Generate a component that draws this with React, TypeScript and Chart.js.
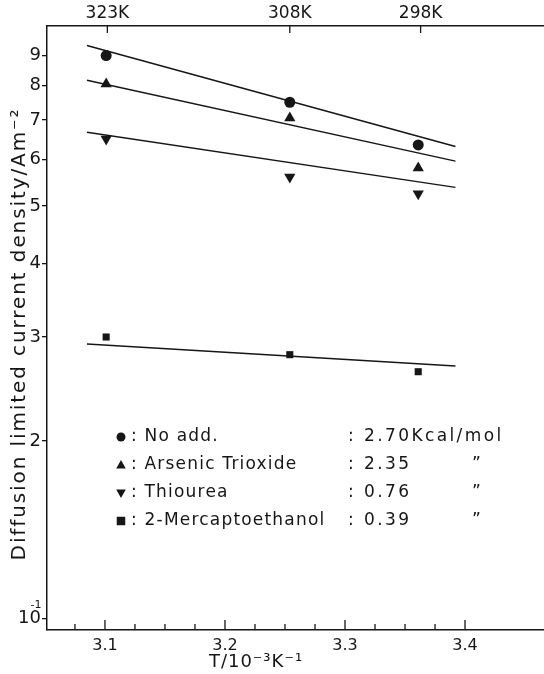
import React, { useEffect, useRef } from 'react';
import { Chart, registerables } from 'chart.js';

Chart.register(...registerables);

// 1/T positions (10^-3 K^-1) of the measurements (323 K, 308 K, 298 K)
const xInvT = [3.101, 3.254, 3.361];
// Diffusion limited current density / A m^-2
const noAdd = [9.0, 7.5, 6.35];
const arsenic = [8.05, 7.05, 5.8];
const thiourea = [6.5, 5.6, 5.25];
const mercapto = [3.0, 2.8, 2.62];
// fitted straight lines (end points)
const fitX = [3.085, 3.392];
const noAddFit = [9.36, 6.31];
const arsenicFit = [8.17, 5.96];
const thioureaFit = [6.67, 5.38];
const mercaptoFit = [2.92, 2.68];

const xTicks = [3.1, 3.2, 3.3, 3.4];
const xTickLabels = ['3.1', '3.2', '3.3', '3.4'];
const xMinorTicks = [3.075, 3.125, 3.15, 3.175, 3.225, 3.25, 3.275, 3.325, 3.35, 3.375];
const topTicks = [3.102, 3.254, 3.363];
const topTickLabels = ['323K', '308K', '298K'];
const yTicks = [1, 2, 3, 4, 5, 6, 7, 8, 9];
const yTickLabels = ['10', '2', '3', '4', '5', '6', '7', '8', '9'];

const legendNames = ['No add.', 'Arsenic Trioxide', 'Thiourea', '2-Mercaptoethanol'];
const legendEnergies = ['2.70', '2.35', '0.76', '0.39'];
const legendUnit = 'Kcal/mol';
const legendDitto = '\u201D';
const legendStyles = ['circle', 'up', 'down', 'square'];

const INK = '#161616';
const FONT = '"DejaVu Sans", sans-serif';

function drawSymbol(ctx: CanvasRenderingContext2D, kind: string, cx: number, cy: number, r: number) {
  ctx.beginPath();
  if (kind === 'circle') {
    ctx.arc(cx, cy, r, 0, Math.PI * 2);
  } else if (kind === 'up') {
    ctx.moveTo(cx, cy - r);
    ctx.lineTo(cx + r * 0.95, cy + r * 0.7);
    ctx.lineTo(cx - r * 0.95, cy + r * 0.7);
    ctx.closePath();
  } else if (kind === 'down') {
    ctx.moveTo(cx, cy + r);
    ctx.lineTo(cx + r * 0.95, cy - r * 0.7);
    ctx.lineTo(cx - r * 0.95, cy - r * 0.7);
    ctx.closePath();
  } else {
    ctx.rect(cx - r * 0.85, cy - r * 0.85, r * 1.7, r * 1.7);
  }
  ctx.fill();
}

const overlay = {
  id: 'overlay',
  afterDraw(chart: any) {
    const { ctx, chartArea, scales } = chart;
    const sx = scales.x;
    const sx2 = scales.x2;
    const sy = scales.y;
    ctx.save();
    ctx.strokeStyle = INK;
    ctx.fillStyle = INK;
    ctx.lineWidth = 1.3;
    // inward tick marks on bottom axis
    ctx.beginPath();
    for (const v of xTicks) {
      const px = sx.getPixelForValue(v);
      ctx.moveTo(px, chartArea.bottom);
      ctx.lineTo(px, chartArea.bottom - 10);
    }
    for (const v of xMinorTicks) {
      const px = sx.getPixelForValue(v);
      ctx.moveTo(px, chartArea.bottom);
      ctx.lineTo(px, chartArea.bottom - 6);
    }
    // inward tick marks on top axis
    for (const v of topTicks) {
      const px = sx2.getPixelForValue(v);
      ctx.moveTo(px, chartArea.top);
      ctx.lineTo(px, chartArea.top + 7);
    }
    ctx.stroke();

    // superscript of the bottom y label
    const y1 = sy.getPixelForValue(yTicks[0]);
    ctx.font = `11px ${FONT}`;
    ctx.textAlign = 'center';
    ctx.textBaseline = 'middle';
    ctx.fillText('-1', 36, y1 - 13);

    // y axis title
    ctx.save();
    ctx.translate(20, 334);
    ctx.rotate(-Math.PI / 2);
    ctx.font = `20px ${FONT}`;
    (ctx as any).letterSpacing = '1.9px';
    ctx.textAlign = 'center';
    ctx.textBaseline = 'middle';
    ctx.fillText('Diffusion limited current density/Am\u207B\u00B2', 0, 0);
    ctx.restore();

    // x axis title
    ctx.save();
    (ctx as any).letterSpacing = '1px';
    ctx.font = `18px ${FONT}`;
    ctx.textAlign = 'center';
    ctx.textBaseline = 'middle';
    ctx.fillText('T/10\u207B\u00B3K\u207B\u00B9', 256, 662);
    ctx.restore();

    // legend
    ctx.save();
    ctx.font = `17px ${FONT}`;
    ctx.textAlign = 'left';
    ctx.textBaseline = 'middle';
    const rows = [437, 465, 493, 521];
    legendNames.forEach((name, i) => {
      const ry = rows[i];
      drawSymbol(ctx, legendStyles[i], 121, ry, legendStyles[i] === 'circle' ? 4.5 : 5);
      (ctx as any).letterSpacing = '1.2px';
      ctx.fillText(': ' + name, 131, ry);
      (ctx as any).letterSpacing = '2.4px';
      ctx.fillText(': ' + legendEnergies[i] + (i === 0 ? legendUnit : ''), 348, ry);
      if (i > 0) ctx.fillText(legendDitto, 472, ry);
    });
    ctx.restore();
    ctx.restore();
  },
};

const lineDs = (ys: number[]) => ({
  type: 'line' as const,
  data: fitX.map((x, i) => ({ x, y: ys[i] })),
  borderColor: INK,
  borderWidth: 1.5,
  pointRadius: 0,
  showLine: true,
  fill: false,
});

const pointDs = (ys: number[], style: string, radius: number, rotation = 0) => ({
  type: 'scatter' as const,
  data: xInvT.map((x, i) => ({ x, y: ys[i] })),
  backgroundColor: INK,
  borderColor: INK,
  borderWidth: 0,
  pointStyle: style,
  pointRadius: radius,
  rotation,
  showLine: false,
});

const X_MIN = 3.0517;
const X_MAX = 3.4658;

export default function App() {
  const ref = useRef<HTMLCanvasElement>(null);
  useEffect(() => {
    if (!ref.current) return;
    const chart = new Chart(ref.current, {
      type: 'scatter',
      data: {
        datasets: [
          lineDs(noAddFit),
          lineDs(arsenicFit),
          lineDs(thioureaFit),
          lineDs(mercaptoFit),
          pointDs(noAdd, 'circle', 5.5),
          pointDs(arsenic, 'triangle', 6.5),
          pointDs(thiourea, 'triangle', 6.5, 180),
          pointDs(mercapto, 'rect', 5),
        ] as any,
      },
      options: {
        animation: false,
        responsive: true,
        maintainAspectRatio: false,
        layout: { padding: 0, autoPadding: false },
        plugins: { legend: { display: false }, tooltip: { enabled: false } },
        scales: {
          x: {
            type: 'linear',
            position: 'bottom',
            min: X_MIN,
            max: X_MAX,
            afterFit: (s: any) => { s.height = 44; },
            afterBuildTicks: (s: any) => { s.ticks = xTicks.map((value) => ({ value })); },
            grid: { display: false, drawTicks: false },
            border: { display: true, color: INK, width: 1.5 },
            ticks: {
              autoSkip: false,
              maxRotation: 0,
              padding: 6,
              color: INK,
              font: { family: FONT, size: 16 },
              callback: (_v: any, i: number) => xTickLabels[i],
            },
          },
          x2: {
            type: 'linear',
            position: 'top',
            min: X_MIN,
            max: X_MAX,
            afterFit: (s: any) => { s.height = 26; },
            afterBuildTicks: (s: any) => { s.ticks = topTicks.map((value) => ({ value })); },
            grid: { display: false, drawTicks: false },
            border: { display: true, color: INK, width: 1.5 },
            ticks: {
              autoSkip: false,
              maxRotation: 0,
              padding: 2,
              color: INK,
              font: { family: FONT, size: 17 },
              callback: (_v: any, i: number) => topTickLabels[i],
            },
          },
          y: {
            type: 'logarithmic',
            position: 'left',
            min: 0.956,
            max: 10.1,
            afterFit: (s: any) => { s.width = 47; },
            afterBuildTicks: (s: any) => { s.ticks = yTicks.map((value) => ({ value })); },
            grid: { drawOnChartArea: false, drawTicks: true, tickLength: 5, color: INK, lineWidth: 1.3 },
            border: { display: true, color: INK, width: 1.5 },
            ticks: {
              autoSkip: false,
              padding: 1,
              color: INK,
              font: { family: FONT, size: 18 },
              callback: (_v: any, i: number) => yTickLabels[i],
            },
          },
        },
      } as any,
      plugins: [overlay],
    });
    return () => chart.destroy();
  }, []);
  return (
    <div style={{ position: 'fixed', left: 0, top: 0, width: 544, height: 674, background: '#fff' }}>
      <canvas ref={ref} />
    </div>
  );
}
